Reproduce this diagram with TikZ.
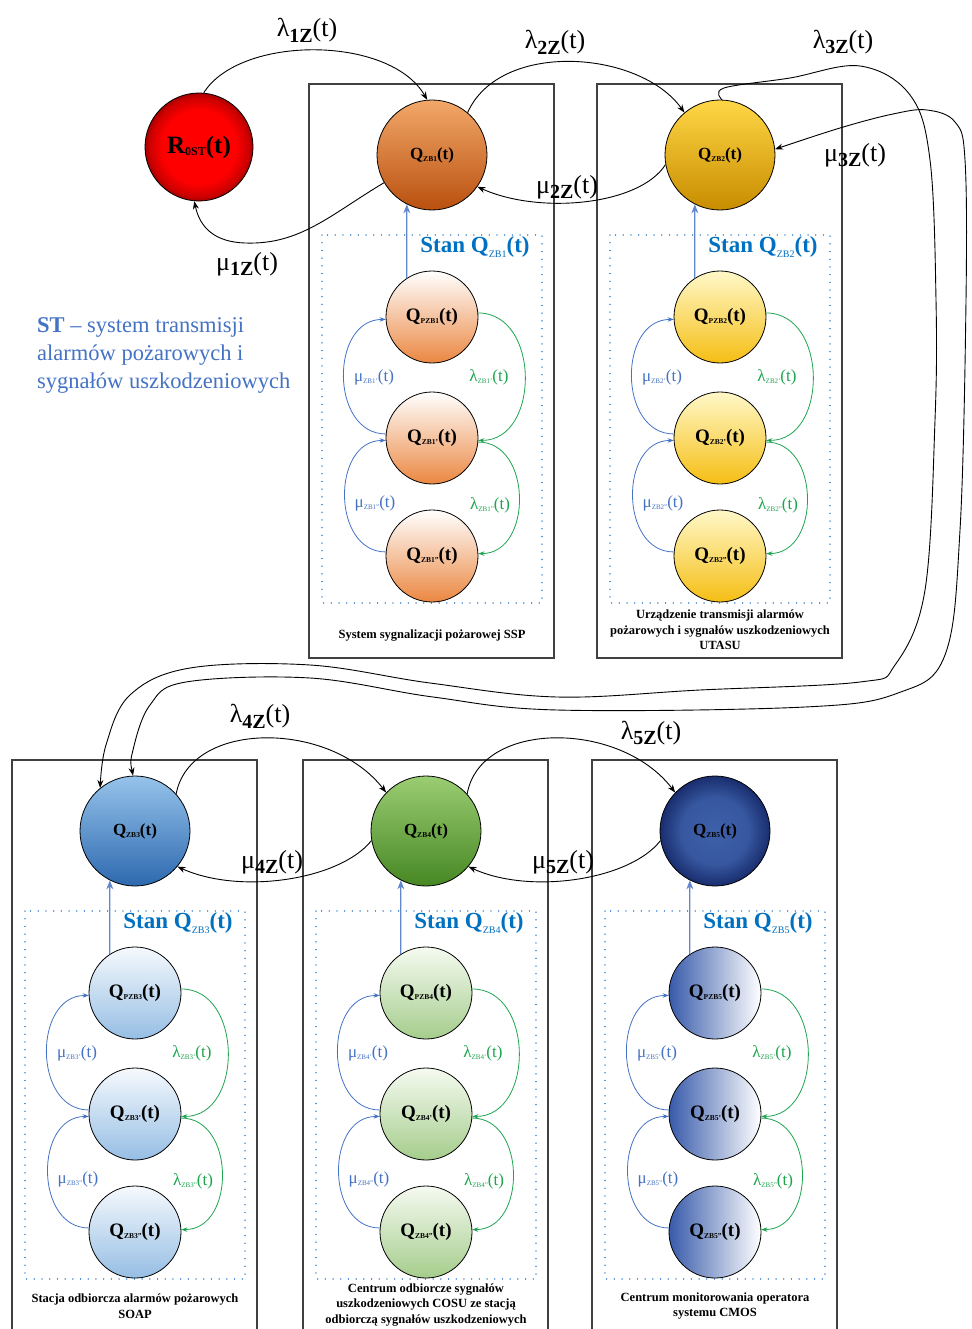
\documentclass[tikz,border=0pt]{standalone}
\usepackage{fontspec}
\setmainfont{Liberation Serif}
\usetikzlibrary{arrows.meta,shadings}

\definecolor{stanblue}{RGB}{0,112,192}
\definecolor{mublue}{RGB}{68,114,196}
\definecolor{lamgreen}{RGB}{30,165,80}
\definecolor{dotcol}{RGB}{70,140,210}

\pgfdeclareradialshading{redball}{\pgfpoint{0bp}{0bp}}{color(0bp)=(red); color(17bp)=(red); color(23bp)=(red!80!black); color(25bp)=(red!65!black); color(50bp)=(red!65!black)}
\pgfdeclareradialshading{navyball}{\pgfpoint{0bp}{0bp}}{color(0bp)=(rgb,255:red,62;green,96;blue,170); color(15bp)=(rgb,255:red,55;green,88;blue,160); color(25bp)=(rgb,255:red,25;green,45;blue,110); color(50bp)=(rgb,255:red,25;green,45;blue,110)}

\newcommand\myQ[2]{{\fontsize{#1}{#1}\selectfont\bfseries Q\raisebox{-0.12em}{\fontsize{7.5}{7.5}\selectfont #2}(t)}}
\newcommand\myrate[2]{{\fontsize{26}{26}\selectfont #1\raisebox{-0.22em}{\fontsize{20}{20}\selectfont\bfseries #2}(t)}}
\newcommand\myin[2]{{\fontsize{17}{17}\selectfont #1\raisebox{-0.12em}{\fontsize{7}{7}\selectfont #2}(t)}}

% #1 id, #2 cx, #3 top, #4 big shade style, #5 inner shade style, #6 index
\newcommand\myblock[6]{%
  \draw[frame] (#2-123,#3) rectangle (#2+122,#3+574);
  \draw[dotbox] (#2-110,#3+151) rectangle (#2+110,#3+519);
  \node[bigc,#4] (Q#1) at (#2,#3+71) {\myQ{17}{ZB#6}};
  \node[smallc,#5] (T#1) at (#2,#3+233) {\myQ{19}{PZB#6}};
  \node[smallc,#5] (M#1) at (#2,#3+354) {\myQ{19}{ZB#6'}};
  \node[smallc,#5] (B#1) at (#2,#3+472) {\myQ{19}{ZB#6''}};
  \node[stanl] (S#1) at (#2+43,#3+163) {Stan Q\raisebox{-0.2em}{\fontsize{10}{10}\selectfont\mdseries ZB#6}(t)};
  \draw[stanarr] (T#1.123) -- (Q#1.243);
  \draw[mu] (M#1.175) to[out=180,in=180,looseness=1.25] (T#1.183);
  \draw[lam] (T#1.5) to[out=0,in=0,looseness=1.25] (M#1.-3);
  \draw[mu] (B#1.175) to[out=180,in=180,looseness=1.25] (M#1.183);
  \draw[lam] (M#1.-5) to[out=0,in=0,looseness=1.25] (B#1.3);
  \node[text=mublue] (mua#1) at (#2-58,#3+293) {\myin{μ}{ZB#6'}};
  \node[text=lamgreen] (laa#1) at (#2+57,#3+293) {\myin{λ}{ZB#6'}};
  \node[text=mublue] (mub#1) at (#2-57,#3+419) {\myin{μ}{ZB#6''}};
  \node[text=lamgreen] (lab#1) at (#2+58,#3+421) {\myin{λ}{ZB#6''}};
}

\begin{document}
\begin{tikzpicture}[x=1pt,y=-1pt,
  bigc/.style={circle,draw=black,line width=0.8pt,minimum size=110pt,inner sep=0pt},
  smallc/.style={circle,draw=black,line width=0.8pt,minimum size=92pt,inner sep=0pt},
  frame/.style={draw=black!75,line width=1.4pt},
  dotbox/.style={draw=dotcol,line width=1.3pt,dash pattern=on 0.1pt off 7.6pt,line cap=round},
  conn/.style={draw=black,line width=0.9pt,-{Stealth[length=8pt,width=6pt]}},
  conn2/.style={draw=black,line width=0.9pt,{Stealth[length=8pt,width=6pt]}-{Stealth[length=8pt,width=6pt]}},
  mu/.style={draw=mublue,line width=0.8pt,-{Stealth[length=6pt,width=4.5pt]}},
  lam/.style={draw=lamgreen,line width=0.8pt,-{Stealth[length=6pt,width=4.5pt]}},
  stanarr/.style={draw=mublue!85,line width=1.2pt,-{Stealth[length=9pt,width=7pt]}},
  stanl/.style={text=stanblue,font=\fontsize{23}{23}\selectfont\bfseries,inner sep=1pt},
  capt/.style={align=center,font=\fontsize{12.5}{15.5}\selectfont\bfseries},
  sA/.style={top color={rgb,255:red,242;green,168;blue,105},bottom color={rgb,255:red,185;green,80;blue,15}},
  sB/.style={top color={rgb,255:red,255;green,215;blue,70},bottom color={rgb,255:red,200;green,140;blue,0}},
  sC/.style={top color={rgb,255:red,150;green,195;blue,235},bottom color={rgb,255:red,45;green,105;blue,175}},
  sD/.style={top color={rgb,255:red,155;green,205;blue,115},bottom color={rgb,255:red,70;green,135;blue,35}},
  sE/.style={shading=navyball},
  iA/.style={top color=white,bottom color={rgb,255:red,235;green,135;blue,65}},
  iB/.style={top color={rgb,255:red,255;green,248;blue,200},bottom color={rgb,255:red,245;green,190;blue,20}},
  iC/.style={top color={rgb,255:red,245;green,249;blue,253},bottom color={rgb,255:red,150;green,190;blue,228}},
  iD/.style={top color={rgb,255:red,245;green,250;blue,240},bottom color={rgb,255:red,165;green,205;blue,140}},
  iE/.style={left color={rgb,255:red,55;green,90;blue,170},right color=white},
]
\useasboundingbox (0,0) rectangle (971,1329);
\fill[white] (0,0) rectangle (971,1329);

\node[bigc,shading=redball,minimum size=108pt] (R) at (199,147)
  {{\fontsize{25}{25}\selectfont\bfseries R\raisebox{-0.1em}{\fontsize{12}{12}\selectfont 0ST}(t)}};

\myblock{1}{432}{84}{sA}{iA}{1}
\myblock{2}{720}{84}{sB}{iB}{2}
\myblock{3}{135}{760}{sC}{iC}{3}
\myblock{4}{426}{760}{sD}{iD}{4}
\myblock{5}{715}{760}{sE}{iE}{5}

% captions
\node[capt] (c1) at (432,636) {System sygnalizacji pożarowej SSP};
\node[capt] (c2) at (720,630) {Urządzenie transmisji alarmów\\pożarowych i sygnałów uszkodzeniowych\\UTASU};
\node[capt] (c3) at (135,1306) {Stacja odbiorcza alarmów pożarowych\\SOAP};
\node[capt] (c4) at (426,1305) {Centrum odbiorcze sygnałów\\uszkodzeniowych COSU ze stacją\\odbiorczą sygnałów uszkodzeniowych};
\node[capt] (c5) at (715,1306) {Centrum monitorowania operatora\\systemu CMOS};

% left description
\node[anchor=west,align=left,text=mublue,font=\fontsize{22.5}{28}\selectfont,inner sep=0pt] (st) at (37,355)
  {\textbf{ST} – system transmisji\\alarmów pożarowych i\\sygnałów uszkodzeniowych};

% top row connectors
\draw[conn] (R.85) .. controls (240,35) and (390,35) .. (Q1.95);
\draw[conn] (Q1.210) .. controls (330,215) and (300,245) .. (245,243) .. controls (215,242) and (200,228) .. (R.265);
\draw[conn] (Q1.50) .. controls (500,40) and (640,50) .. (Q2.130);
\draw[conn] (Q2.190) .. controls (640,205) and (540,215) .. (Q1.-35);

% long connectors Q2 <-> Q3
\draw[conn] plot[smooth,tension=0.6] coordinates {(Q2.88) (724,88) (790,78) (860,66) (910,95) (930,160) (936,300) (935,420) (925,590) (895,665) (860,682) (700,690) (557,697) (430,683) (310,665) (190,668) (130,695) (106,745) (Q3.129)};
\draw[conn2] plot[smooth,tension=0.6] coordinates {(Q3.92) (133,750) (150,705) (186,682) (310,678) (433,697) (557,710) (805,707) (898,693) (945,655) (960,530) (966,300) (965,160) (955,122) (927,110) (893,114) (840,128) (Q2.6)};

% bottom row connectors
\draw[conn] (Q3.42) .. controls (190,720) and (330,720) .. (Q4.136);
\draw[conn] (Q4.190) .. controls (340,880) and (240,895) .. (Q3.-40);
\draw[conn] (Q4.42) .. controls (480,720) and (620,720) .. (Q5.136);
\draw[conn] (Q5.190) .. controls (630,880) and (530,895) .. (Q4.-40);

% rate labels
\node (l1) at (307,30) {\myrate{λ}{1Z}};
\node (l2) at (555,42) {\myrate{λ}{2Z}};
\node (l3) at (843,42) {\myrate{λ}{3Z}};
\node (m1) at (247,264) {\myrate{μ}{1Z}};
\node (m2) at (567,187) {\myrate{μ}{2Z}};
\node (m3) at (855,155) {\myrate{μ}{3Z}};
\node (l4) at (260,716) {\myrate{λ}{4Z}};
\node (l5) at (651,733) {\myrate{λ}{5Z}};
\node (m4) at (272,862) {\myrate{μ}{4Z}};
\node (m5) at (563,862) {\myrate{μ}{5Z}};
\end{tikzpicture}
\end{document}
